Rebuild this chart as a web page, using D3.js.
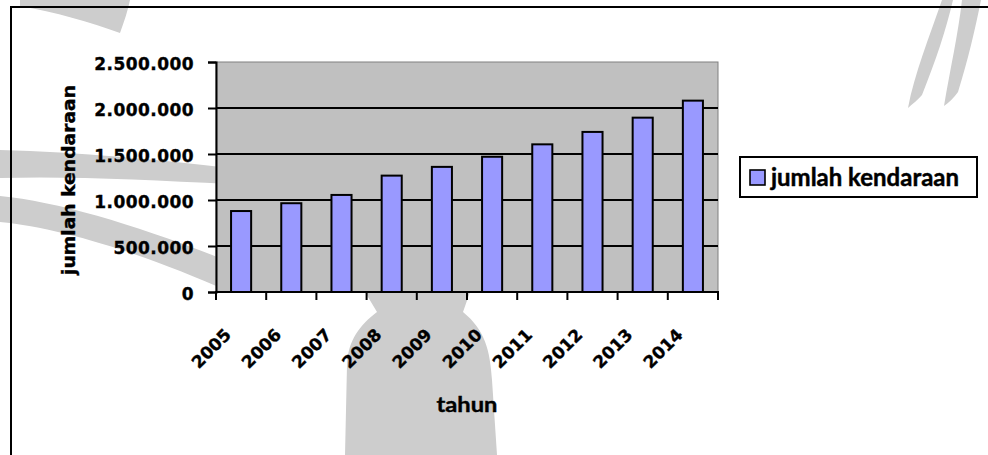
<!DOCTYPE html>
<html>
<head>
<meta charset="utf-8">
<script src="https://cdn.jsdelivr.net/npm/d3@7"></script>
<style>
  html, body { margin: 0; padding: 0; background: #fff; }
  svg { display: block; }
</style>
</head>
<body>
<svg id="chart" width="988" height="455"></svg>
<script>
// Registered motor vehicles per year
const years = ["2005", "2006", "2007", "2008", "2009", "2010", "2011", "2012", "2013", "2014"];
const vehicles = [880000, 965000, 1055000, 1265000, 1360000, 1470000, 1605000, 1740000, 1895000, 2080000];
const yTickValues = [0, 500000, 1000000, 1500000, 2000000, 2500000];
const seriesLabel = "jumlah kendaraan";
const xTitle = "tahun";
const yTitle = "jumlah kendaraan";

const W = 988, H = 455;
const plot = { left: 216, top: 62, right: 718, bottom: 292 };

const svg = d3.select("#chart");

// Faint emblem printed behind the page content
const emblem = svg.append("g").attr("fill", "#cdcdcd").attr("stroke", "none");
const emblemPaths = [
  // stem below the plot
  "M365,292 L377,312 C360,325 348,340 347,365 L345,455 L497,455 L492,380 C490,350 485,330 463,312 L470,292 Z",
  // top-left corner sweep
  "M20,0 L130,0 C128,10 124,22 120,33 C90,22 55,12 20,6 Z",
  // left feathers, running in behind the plot
  "M0,150 C80,152 160,160 230,168 L230,184 C150,180 70,176 0,178 Z",
  "M0,196 C60,202 140,226 230,262 L230,292 C140,252 60,228 0,222 Z",
  // right edge strokes at the top
  "M942,0 L953,0 C946,30 936,60 922,95 C918,100 912,104 908,108 C914,75 930,35 942,0 Z",
  "M962,0 L981,0 C975,30 968,60 958,92 C954,98 948,103 944,106 C950,70 958,35 962,0 Z"
];
emblem.selectAll("path").data(emblemPaths).join("path").attr("d", d => d);

// Indonesian number style: dots as thousands separators
const idLocale = d3.formatLocale({ decimal: ",", thousands: ".", grouping: [3], currency: ["Rp", ""] });
const fmt = idLocale.format(",");

const x = d3.scaleBand()
  .domain(years)
  .range([plot.left, plot.right])
  .paddingInner(0.6)
  .paddingOuter(0.3);

const y = d3.scaleLinear()
  .domain([0, 2500000])
  .range([plot.bottom, plot.top]);

// Outer chart frame
svg.append("rect")
  .attr("x", 11).attr("y", 7)
  .attr("width", W + 20).attr("height", H + 20)
  .attr("fill", "none")
  .attr("stroke", "#000")
  .attr("stroke-width", 2);

// Plot area background
svg.append("rect")
  .attr("x", plot.left).attr("y", plot.top)
  .attr("width", plot.right - plot.left)
  .attr("height", plot.bottom - plot.top)
  .attr("fill", "#c0c0c0")
  .attr("stroke", "#808080")
  .attr("stroke-width", 1);

// Horizontal gridlines
svg.append("g")
  .selectAll("line")
  .data(yTickValues.filter(v => v > 0 && v < 2500000))
  .join("line")
  .attr("x1", plot.left).attr("x2", plot.right)
  .attr("y1", d => y(d)).attr("y2", d => y(d))
  .attr("stroke", "#000")
  .attr("stroke-width", 2);

// Bars
svg.append("g")
  .selectAll("rect")
  .data(years.map((yr, i) => ({ yr, v: vehicles[i] })))
  .join("rect")
  .attr("x", d => x(d.yr))
  .attr("y", d => y(d.v))
  .attr("width", x.bandwidth())
  .attr("height", d => y(0) - y(d.v))
  .attr("fill", "#9999ff")
  .attr("stroke", "#000")
  .attr("stroke-width", 2);

// Y axis
const yAxis = svg.append("g")
  .attr("transform", `translate(${plot.left},0)`)
  .call(d3.axisLeft(y).tickValues(yTickValues).tickSize(8).tickPadding(14).tickFormat(fmt));
yAxis.select(".domain").attr("stroke", "#000").attr("stroke-width", 2);
yAxis.selectAll(".tick line").attr("stroke", "#000").attr("stroke-width", 2);
yAxis.selectAll(".tick text")
  .attr("font-family", "'DejaVu Sans', Verdana, sans-serif")
  .attr("font-weight", "bold")
  .attr("font-size", 17)
  .attr("letter-spacing", 0.45)
  .attr("fill", "#000")
  .attr("stroke", "#000").attr("stroke-width", 0.35)
  .attr("dy", "0.45em");

// X axis: labels at band centres, tick marks on category boundaries
const step = x.step();
const xAxis = svg.append("g")
  .attr("transform", `translate(0,${plot.bottom})`)
  .call(d3.axisBottom(x).tickSize(0).tickPadding(0));
xAxis.select(".domain").remove();
xAxis.selectAll(".tick text")
  .attr("font-family", "'DejaVu Sans', Verdana, sans-serif")
  .attr("font-weight", "bold")
  .attr("font-size", 17)
  .attr("fill", "#000")
  .attr("stroke", "#000").attr("stroke-width", 0.35)
  .attr("text-anchor", "end")
  .attr("y", 0).attr("dy", 0)
  .attr("transform", "translate(-9,44) rotate(-45)");

const bounds = d3.range(years.length + 1).map(i => plot.left + i * step);
svg.append("g")
  .selectAll("line")
  .data(bounds)
  .join("line")
  .attr("x1", d => d).attr("x2", d => d)
  .attr("y1", plot.bottom).attr("y2", plot.bottom + 8)
  .attr("stroke", "#000").attr("stroke-width", 2);
svg.append("line")
  .attr("x1", plot.left - 1).attr("x2", plot.right + 1)
  .attr("y1", y(0)).attr("y2", y(0))
  .attr("stroke", "#000").attr("stroke-width", 2);

// Axis titles
svg.append("text")
  .attr("x", (plot.left + plot.right) / 2)
  .attr("y", 412)
  .attr("text-anchor", "middle")
  .attr("font-family", "Lato, 'Open Sans', sans-serif")
  .attr("font-weight", "bold")
  .attr("font-size", 21)
  .attr("stroke", "#000").attr("stroke-width", 0.4)
  .attr("textLength", 61)
  .attr("lengthAdjust", "spacingAndGlyphs")
  .text(xTitle);

svg.append("text")
  .attr("transform", `translate(75,${(plot.top + plot.bottom) / 2 + 3}) rotate(-90)`)
  .attr("text-anchor", "middle")
  .attr("font-family", "'DejaVu Sans', Verdana, sans-serif")
  .attr("font-weight", "bold")
  .attr("font-size", 17)
  .attr("stroke", "#000").attr("stroke-width", 0.35)
  .attr("textLength", 190)
  .attr("lengthAdjust", "spacingAndGlyphs")
  .text(yTitle);

// Legend
const legend = svg.append("g").attr("transform", "translate(740,157)");
legend.append("rect")
  .attr("width", 237).attr("height", 40)
  .attr("fill", "none")
  .attr("stroke", "#000").attr("stroke-width", 2);
legend.append("rect")
  .attr("x", 10).attr("y", 13)
  .attr("width", 15).attr("height", 15)
  .attr("fill", "#9999ff")
  .attr("stroke", "#000").attr("stroke-width", 1.6);
legend.append("text")
  .attr("x", 31).attr("y", 29)
  .attr("font-family", "Lato, 'Open Sans', sans-serif")
  .attr("font-weight", "bold")
  .attr("font-size", 24)
  .attr("stroke", "#000").attr("stroke-width", 0.45)
  .attr("textLength", 188)
  .attr("lengthAdjust", "spacingAndGlyphs")
  .text(seriesLabel);
</script>
</body>
</html>
